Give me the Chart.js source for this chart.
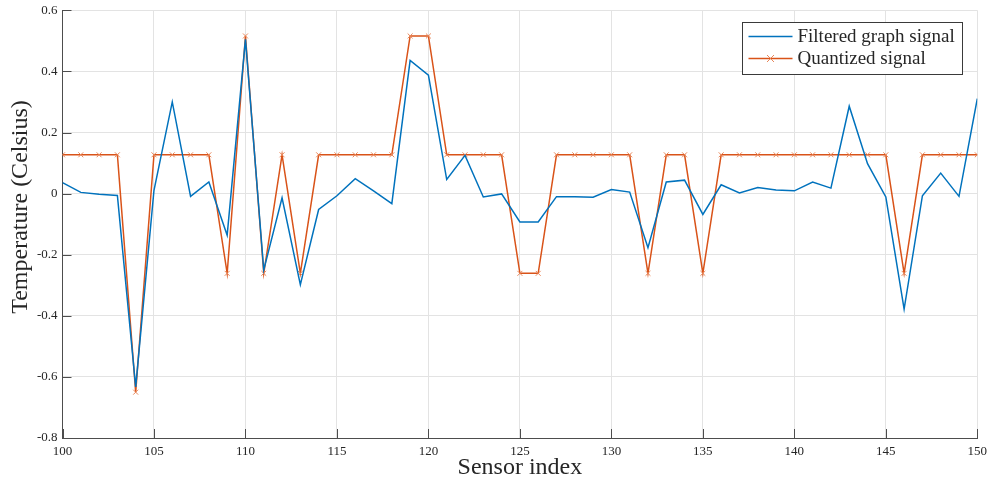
<!DOCTYPE html>
<html>
<head>
<meta charset="utf-8">
<script src="https://cdn.jsdelivr.net/npm/chart.js@4.4.1/dist/chart.umd.min.js"></script>
<style>
  html, body { margin: 0; padding: 0; background: #ffffff; }
  #wrap { width: 990px; height: 484px; }
</style>
</head>
<body>
<div id="wrap"><canvas id="c" width="990" height="484"></canvas></div>
<script>
// Sensor indices along the horizontal axis
const sensorIndex = [100, 101, 102, 103, 104, 105, 106, 107, 108, 109,
                     110, 111, 112, 113, 114, 115, 116, 117, 118, 119,
                     120, 121, 122, 123, 124, 125, 126, 127, 128, 129,
                     130, 131, 132, 133, 134, 135, 136, 137, 138, 139,
                     140, 141, 142, 143, 144, 145, 146, 147, 148, 149, 150];

// Filtered graph signal (Celsius)
const filteredSignal = [0.036, 0.004, -0.002, -0.006, -0.633, 0.011, 0.300, -0.009, 0.038, -0.136,
                        0.505, -0.250, -0.014, -0.298, -0.052, -0.007, 0.049, 0.009, -0.033, 0.436,
                        0.388, 0.046, 0.125, -0.011, -0.001, -0.093, -0.093, -0.010, -0.010, -0.012,
                        0.013, 0.005, -0.177, 0.038, 0.044, -0.068, 0.029, 0.002, 0.020, 0.012,
                        0.009, 0.038, 0.018, 0.286, 0.098, -0.011, -0.378, -0.007, 0.067, -0.009, 0.311];

// Quantized signal (Celsius), four levels
const quantizedSignal = [0.127, 0.127, 0.127, 0.127, -0.650, 0.127, 0.127, 0.127, 0.127, -0.261,
                         0.516, -0.261, 0.127, -0.261, 0.127, 0.127, 0.127, 0.127, 0.127, 0.516,
                         0.516, 0.127, 0.127, 0.127, 0.127, -0.261, -0.261, 0.127, 0.127, 0.127,
                         0.127, 0.127, -0.261, 0.127, 0.127, -0.261, 0.127, 0.127, 0.127, 0.127,
                         0.127, 0.127, 0.127, 0.127, 0.127, 0.127, -0.261, 0.127, 0.127, 0.127, 0.127];

const seriesNames = ['Filtered graph signal', 'Quantized signal'];
const xTitle = 'Sensor index';
const yTitle = 'Temperature (Celsius)';

const BLUE = '#0072BD';
const ORANGE = '#D95319';
const AXIS = '#4d4d4d';
const GRID = '#e3e3e3';
const SERIF = '"Liberation Serif", "DejaVu Serif", serif';

const toXY = (vals) => vals.map((v, i) => ({ x: sensorIndex[i], y: v }));

// Axis titles, inward tick marks and the boxed legend in the upper right
const decorations = {
  id: 'decorations',
  afterDraw(chart) {
    const { ctx, chartArea: a, scales: { x, y } } = chart;
    ctx.save();

    // inward tick marks
    ctx.strokeStyle = AXIS;
    ctx.lineWidth = 1;
    const tl = 9;
    x.ticks.forEach(t => {
      const px = Math.round(x.getPixelForValue(t.value)) + 0.5;
      ctx.beginPath();
      ctx.moveTo(px, a.bottom);
      ctx.lineTo(px, a.bottom - tl);
      ctx.stroke();
    });
    y.ticks.forEach(t => {
      const py = Math.round(y.getPixelForValue(t.value)) + 0.5;
      ctx.beginPath();
      ctx.moveTo(a.left, py);
      ctx.lineTo(a.left + tl, py);
      ctx.stroke();
    });

    // axis titles
    ctx.fillStyle = '#262626';
    ctx.font = '24px ' + SERIF;
    ctx.textAlign = 'center';
    ctx.textBaseline = 'middle';
    ctx.fillText(xTitle, (a.left + a.right) / 2, 468);
    ctx.save();
    ctx.translate(21, 207);
    ctx.rotate(-Math.PI / 2);
    ctx.fillText(yTitle, 0, 0);
    ctx.restore();

    // legend
    const bx = 742.5, by = 22.5, bw = 220, bh = 52;
    ctx.fillStyle = '#ffffff';
    ctx.fillRect(bx, by, bw, bh);
    ctx.strokeStyle = '#3a3a3a';
    ctx.lineWidth = 1;
    ctx.strokeRect(bx, by, bw, bh);
    const rows = [
      { y: by + 14, color: BLUE, marker: false },
      { y: by + 36, color: ORANGE, marker: true }
    ];
    ctx.font = '19px ' + SERIF;
    ctx.textAlign = 'left';
    rows.forEach((r, i) => {
      ctx.strokeStyle = r.color;
      ctx.lineWidth = 1.5;
      ctx.beginPath();
      ctx.moveTo(bx + 6, r.y);
      ctx.lineTo(bx + 50, r.y);
      ctx.stroke();
      if (r.marker) {
        const cx = bx + 28, s = 3.5;
        ctx.lineWidth = 1;
        ctx.strokeStyle = '#e8875a';
        ctx.beginPath();
        ctx.moveTo(cx - s, r.y - s); ctx.lineTo(cx + s, r.y + s);
        ctx.moveTo(cx + s, r.y - s); ctx.lineTo(cx - s, r.y + s);
        ctx.stroke();
      }
      ctx.fillStyle = '#262626';
      ctx.fillText(seriesNames[i], bx + 55, r.y + 1);
    });
    ctx.restore();
  }
};

new Chart(document.getElementById('c'), {
  type: 'line',
  data: {
    datasets: [
      {
        label: seriesNames[0],
        data: toXY(filteredSignal),
        borderColor: BLUE,
        backgroundColor: BLUE,
        borderWidth: 1.5,
        pointRadius: 0,
        tension: 0,
        fill: false
      },
      {
        label: seriesNames[1],
        data: toXY(quantizedSignal),
        borderColor: ORANGE,
        backgroundColor: ORANGE,
        borderWidth: 1.5,
        pointStyle: 'crossRot',
        pointRadius: 3.5,
        pointBorderColor: '#e8875a',
        pointBorderWidth: 1,
        tension: 0,
        fill: false
      }
    ]
  },
  options: {
    responsive: false,
    animation: false,
    layout: { padding: { top: 10.3, right: 12.7, left: 0, bottom: 0 } },
    plugins: {
      legend: { display: false },
      tooltip: { enabled: false }
    },
    scales: {
      x: {
        type: 'linear',
        min: 100,
        max: 150,
        afterFit(s) { s.height = 46; s.paddingLeft = 0; s.paddingRight = 0; },
        ticks: {
          stepSize: 5,
          padding: 6,
          color: '#262626',
          font: { family: SERIF, size: 13 },
          maxRotation: 0
        },
        grid: { color: GRID, lineWidth: 1, drawTicks: false },
        border: { display: true, color: AXIS, width: 1 }
      },
      y: {
        min: -0.8,
        max: 0.6,
        afterFit(s) { s.width = 62.5; s.paddingTop = 0; s.paddingBottom = 0; },
        ticks: {
          stepSize: 0.2,
          padding: 5,
          color: '#262626',
          font: { family: SERIF, size: 13 },
          callback: (v) => String(Math.round(v * 10) / 10)
        },
        grid: { color: GRID, lineWidth: 1, drawTicks: false },
        border: { display: true, color: AXIS, width: 1 }
      }
    }
  },
  plugins: [decorations]
});
</script>
</body>
</html>
